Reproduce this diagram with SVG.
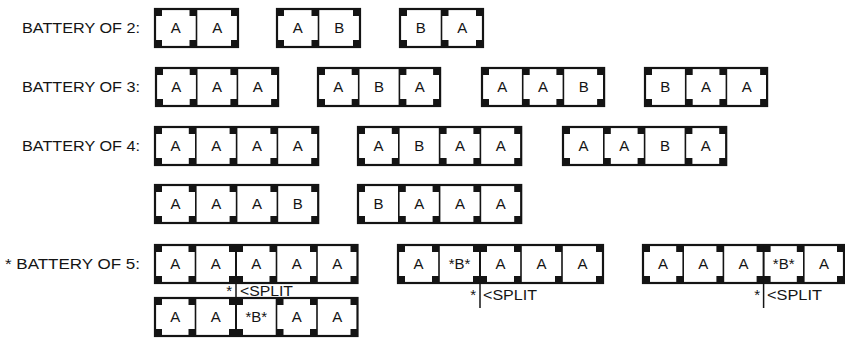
<svg xmlns="http://www.w3.org/2000/svg" width="845" height="341" viewBox="0 0 845 341">
<style>
.bg{fill:#fff}
.box{fill:#fff;stroke:#141414;stroke-width:2.2}
.sep{stroke:#141414;stroke-width:1.6}
.spl{stroke:#141414;stroke-width:2}
.sq{fill:#141414}
.lbl{font-family:"Liberation Sans",Arial,sans-serif;font-size:15px;fill:#141414}
.c{font-family:"Liberation Sans",Arial,sans-serif;font-size:15px;fill:#141414;text-anchor:middle}
.st{font-family:"Liberation Sans",Arial,sans-serif;font-size:15px;fill:#141414}
.cl{stroke:#141414;stroke-width:1.5}
</style>
<defs><rect id="s" class="sq" width="7" height="7"/></defs>
<rect class="bg" x="0" y="0" width="845" height="341"/>
<g id="labels">
<text class="lbl" x="22" y="33" textLength="118" lengthAdjust="spacingAndGlyphs">BATTERY OF 2:</text>
<text class="lbl" x="22" y="92" textLength="118" lengthAdjust="spacingAndGlyphs">BATTERY OF 3:</text>
<text class="lbl" x="22" y="151" textLength="118" lengthAdjust="spacingAndGlyphs">BATTERY OF 4:</text>
<text class="lbl" x="5" y="269" textLength="135" lengthAdjust="spacingAndGlyphs">* BATTERY OF 5:</text>
</g>
<!-- Row 1 -->
<g id="b2-aa">
<rect class="box" x="155" y="9" width="83" height="38"/>
<line class="sep" x1="196.5" y1="9" x2="196.5" y2="47"/>
<use href="#s" x="155" y="9"/><use href="#s" x="155" y="40"/>
<use href="#s" x="189.5" y="9"/><use href="#s" x="189.5" y="40"/>
<use href="#s" x="231" y="9"/><use href="#s" x="231" y="40"/>
<text class="c" x="175.75" y="33">A</text><text class="c" x="217.25" y="33">A</text>
</g>
<g id="b2-ab">
<rect class="box" x="277" y="9" width="83" height="38"/>
<line class="sep" x1="318.5" y1="9" x2="318.5" y2="47"/>
<use href="#s" x="277" y="9"/><use href="#s" x="277" y="40"/>
<use href="#s" x="311.5" y="9"/><use href="#s" x="311.5" y="40"/>
<use href="#s" x="353" y="9"/><use href="#s" x="353" y="40"/>
<text class="c" x="297.75" y="33">A</text><text class="c" x="339.25" y="33">B</text>
</g>
<g id="b2-ba">
<rect class="box" x="400" y="9" width="83" height="38"/>
<line class="sep" x1="441.5" y1="9" x2="441.5" y2="47"/>
<use href="#s" x="400" y="9"/><use href="#s" x="400" y="40"/>
<use href="#s" x="441.5" y="9"/><use href="#s" x="441.5" y="40"/>
<use href="#s" x="476" y="9"/><use href="#s" x="476" y="40"/>
<text class="c" x="420.75" y="33">B</text><text class="c" x="462.25" y="33">A</text>
</g>
<!-- Row 2 -->
<g id="b3-aaa">
<rect class="box" x="156" y="68" width="122.1" height="38"/>
<line class="sep" x1="196.7" y1="68" x2="196.7" y2="106"/><line class="sep" x1="237.4" y1="68" x2="237.4" y2="106"/>
<use href="#s" x="156" y="68"/><use href="#s" x="156" y="99"/>
<use href="#s" x="189.7" y="68"/><use href="#s" x="189.7" y="99"/>
<use href="#s" x="230.4" y="68"/><use href="#s" x="230.4" y="99"/>
<use href="#s" x="271.1" y="68"/><use href="#s" x="271.1" y="99"/>
<text class="c" x="176.35" y="92">A</text><text class="c" x="217.05" y="92">A</text><text class="c" x="257.75" y="92">A</text>
</g>
<g id="b3-aba">
<rect class="box" x="318" y="68" width="122.1" height="38"/>
<line class="sep" x1="358.7" y1="68" x2="358.7" y2="106"/><line class="sep" x1="399.4" y1="68" x2="399.4" y2="106"/>
<use href="#s" x="318" y="68"/><use href="#s" x="318" y="99"/>
<use href="#s" x="351.7" y="68"/><use href="#s" x="351.7" y="99"/>
<use href="#s" x="399.4" y="68"/><use href="#s" x="399.4" y="99"/>
<use href="#s" x="433.1" y="68"/><use href="#s" x="433.1" y="99"/>
<text class="c" x="338.35" y="92">A</text><text class="c" x="379.05" y="92">B</text><text class="c" x="419.75" y="92">A</text>
</g>
<g id="b3-aab">
<rect class="box" x="482" y="68" width="122.1" height="38"/>
<line class="sep" x1="522.7" y1="68" x2="522.7" y2="106"/><line class="sep" x1="563.4" y1="68" x2="563.4" y2="106"/>
<use href="#s" x="482" y="68"/><use href="#s" x="482" y="99"/>
<use href="#s" x="522.7" y="68"/><use href="#s" x="522.7" y="99"/>
<use href="#s" x="556.4" y="68"/><use href="#s" x="556.4" y="99"/>
<use href="#s" x="597.1" y="68"/><use href="#s" x="597.1" y="99"/>
<text class="c" x="502.35" y="92">A</text><text class="c" x="543.05" y="92">A</text><text class="c" x="583.75" y="92">B</text>
</g>
<g id="b3-baa">
<rect class="box" x="645" y="68" width="122.1" height="38"/>
<line class="sep" x1="685.7" y1="68" x2="685.7" y2="106"/><line class="sep" x1="726.4" y1="68" x2="726.4" y2="106"/>
<use href="#s" x="645" y="68"/><use href="#s" x="645" y="99"/>
<use href="#s" x="685.7" y="68"/><use href="#s" x="685.7" y="99"/>
<use href="#s" x="719.4" y="68"/><use href="#s" x="719.4" y="99"/>
<use href="#s" x="760.1" y="68"/><use href="#s" x="760.1" y="99"/>
<text class="c" x="665.35" y="92">B</text><text class="c" x="706.05" y="92">A</text><text class="c" x="746.75" y="92">A</text>
</g>
<!-- Row 3 -->
<g id="b4-aaaa">
<rect class="box" x="155" y="127" width="163.2" height="38"/>
<line class="sep" x1="195.8" y1="127" x2="195.8" y2="165"/><line class="sep" x1="236.6" y1="127" x2="236.6" y2="165"/><line class="sep" x1="277.4" y1="127" x2="277.4" y2="165"/>
<use href="#s" x="155" y="127"/><use href="#s" x="155" y="158"/>
<use href="#s" x="188.8" y="127"/><use href="#s" x="188.8" y="158"/>
<use href="#s" x="229.6" y="127"/><use href="#s" x="229.6" y="158"/>
<use href="#s" x="270.4" y="127"/><use href="#s" x="270.4" y="158"/>
<use href="#s" x="311.2" y="127"/><use href="#s" x="311.2" y="158"/>
<text class="c" x="175.4" y="151">A</text><text class="c" x="216.2" y="151">A</text><text class="c" x="257" y="151">A</text><text class="c" x="297.8" y="151">A</text>
</g>
<g id="b4-abaa">
<rect class="box" x="358" y="127" width="163.2" height="38"/>
<line class="sep" x1="398.8" y1="127" x2="398.8" y2="165"/><line class="sep" x1="439.6" y1="127" x2="439.6" y2="165"/><line class="sep" x1="480.4" y1="127" x2="480.4" y2="165"/>
<use href="#s" x="358" y="127"/><use href="#s" x="358" y="158"/>
<use href="#s" x="391.8" y="127"/><use href="#s" x="391.8" y="158"/>
<use href="#s" x="439.6" y="127"/><use href="#s" x="439.6" y="158"/>
<use href="#s" x="473.4" y="127"/><use href="#s" x="473.4" y="158"/>
<use href="#s" x="514.2" y="127"/><use href="#s" x="514.2" y="158"/>
<text class="c" x="378.4" y="151">A</text><text class="c" x="419.2" y="151">B</text><text class="c" x="460" y="151">A</text><text class="c" x="500.8" y="151">A</text>
</g>
<g id="b4-aaba">
<rect class="box" x="563" y="127" width="163.2" height="38"/>
<line class="sep" x1="603.8" y1="127" x2="603.8" y2="165"/><line class="sep" x1="644.6" y1="127" x2="644.6" y2="165"/><line class="sep" x1="685.4" y1="127" x2="685.4" y2="165"/>
<use href="#s" x="563" y="127"/><use href="#s" x="563" y="158"/>
<use href="#s" x="603.8" y="127"/><use href="#s" x="603.8" y="158"/>
<use href="#s" x="637.6" y="127"/><use href="#s" x="637.6" y="158"/>
<use href="#s" x="685.4" y="127"/><use href="#s" x="685.4" y="158"/>
<use href="#s" x="719.2" y="127"/><use href="#s" x="719.2" y="158"/>
<text class="c" x="583.4" y="151">A</text><text class="c" x="624.2" y="151">A</text><text class="c" x="665" y="151">B</text><text class="c" x="705.8" y="151">A</text>
</g>
<!-- Row 4 -->
<g id="b4-aaab">
<rect class="box" x="155" y="185" width="163.2" height="38"/>
<line class="sep" x1="195.8" y1="185" x2="195.8" y2="223"/><line class="sep" x1="236.6" y1="185" x2="236.6" y2="223"/><line class="sep" x1="277.4" y1="185" x2="277.4" y2="223"/>
<use href="#s" x="155" y="185"/><use href="#s" x="155" y="216"/>
<use href="#s" x="188.8" y="185"/><use href="#s" x="188.8" y="216"/>
<use href="#s" x="229.6" y="185"/><use href="#s" x="229.6" y="216"/>
<use href="#s" x="270.4" y="185"/><use href="#s" x="270.4" y="216"/>
<use href="#s" x="311.2" y="185"/><use href="#s" x="311.2" y="216"/>
<text class="c" x="175.4" y="209">A</text><text class="c" x="216.2" y="209">A</text><text class="c" x="257" y="209">A</text><text class="c" x="297.8" y="209">B</text>
</g>
<g id="b4-baaa">
<rect class="box" x="358" y="185" width="163.2" height="38"/>
<line class="sep" x1="398.8" y1="185" x2="398.8" y2="223"/><line class="sep" x1="439.6" y1="185" x2="439.6" y2="223"/><line class="sep" x1="480.4" y1="185" x2="480.4" y2="223"/>
<use href="#s" x="358" y="185"/><use href="#s" x="358" y="216"/>
<use href="#s" x="398.8" y="185"/><use href="#s" x="398.8" y="216"/>
<use href="#s" x="432.6" y="185"/><use href="#s" x="432.6" y="216"/>
<use href="#s" x="473.4" y="185"/><use href="#s" x="473.4" y="216"/>
<use href="#s" x="514.2" y="185"/><use href="#s" x="514.2" y="216"/>
<text class="c" x="378.4" y="209">B</text><text class="c" x="419.2" y="209">A</text><text class="c" x="460" y="209">A</text><text class="c" x="500.8" y="209">A</text>
</g>
<!-- Row 5 -->
<g id="b5-aaaaa">
<rect class="box" x="155" y="245" width="202.5" height="38"/>
<line class="sep" x1="195.5" y1="245" x2="195.5" y2="283"/><line class="spl" x1="236" y1="245" x2="236" y2="283"/><line class="sep" x1="276.5" y1="245" x2="276.5" y2="283"/><line class="sep" x1="317" y1="245" x2="317" y2="283"/>
<use href="#s" x="155" y="245"/><use href="#s" x="155" y="276"/>
<use href="#s" x="188.5" y="245"/><use href="#s" x="188.5" y="276"/>
<use href="#s" x="229" y="245"/><use href="#s" x="229" y="276"/>
<use href="#s" x="236" y="245"/><use href="#s" x="236" y="276"/>
<use href="#s" x="269.5" y="245"/><use href="#s" x="269.5" y="276"/>
<use href="#s" x="310" y="245"/><use href="#s" x="310" y="276"/>
<use href="#s" x="350.5" y="245"/><use href="#s" x="350.5" y="276"/>
<text class="c" x="175.25" y="269">A</text><text class="c" x="215.75" y="269">A</text><text class="c" x="256.25" y="269">A</text><text class="c" x="296.75" y="269">A</text><text class="c" x="337.25" y="269">A</text>
</g>
<g id="b5-abaaa">
<rect class="box" x="398" y="245" width="205" height="38"/>
<line class="sep" x1="439" y1="245" x2="439" y2="283"/><line class="spl" x1="480" y1="245" x2="480" y2="283"/><line class="sep" x1="521" y1="245" x2="521" y2="283"/><line class="sep" x1="562" y1="245" x2="562" y2="283"/>
<use href="#s" x="398" y="245"/><use href="#s" x="398" y="276"/>
<use href="#s" x="432" y="245"/><use href="#s" x="432" y="276"/>
<use href="#s" x="473" y="245"/><use href="#s" x="473" y="276"/>
<use href="#s" x="480" y="245"/><use href="#s" x="480" y="276"/>
<use href="#s" x="514" y="245"/><use href="#s" x="514" y="276"/>
<use href="#s" x="555" y="245"/><use href="#s" x="555" y="276"/>
<use href="#s" x="596" y="245"/><use href="#s" x="596" y="276"/>
<text class="c" x="418.5" y="269">A</text><text class="c" x="459.5" y="269">*B*</text><text class="c" x="500.5" y="269">A</text><text class="c" x="541.5" y="269">A</text><text class="c" x="582.5" y="269">A</text>
</g>
<g id="b5-aaaba">
<rect class="box" x="643" y="245" width="201" height="38"/>
<line class="sep" x1="683.2" y1="245" x2="683.2" y2="283"/><line class="sep" x1="723.4" y1="245" x2="723.4" y2="283"/><line class="spl" x1="763.6" y1="245" x2="763.6" y2="283"/><line class="sep" x1="803.8" y1="245" x2="803.8" y2="283"/>
<use href="#s" x="643" y="245"/><use href="#s" x="643" y="276"/>
<use href="#s" x="676.2" y="245"/><use href="#s" x="676.2" y="276"/>
<use href="#s" x="716.4" y="245"/><use href="#s" x="716.4" y="276"/>
<use href="#s" x="756.6" y="245"/><use href="#s" x="756.6" y="276"/>
<use href="#s" x="763.6" y="245"/><use href="#s" x="763.6" y="276"/>
<use href="#s" x="796.8" y="245"/><use href="#s" x="796.8" y="276"/>
<use href="#s" x="837" y="245"/><use href="#s" x="837" y="276"/>
<text class="c" x="663.1" y="269">A</text><text class="c" x="703.3" y="269">A</text><text class="c" x="743.5" y="269">A</text><text class="c" x="783.7" y="269">*B*</text><text class="c" x="823.9" y="269">A</text>
</g>
<!-- Row 6 -->
<g id="b5-aabaa">
<rect class="box" x="155" y="298" width="202.5" height="38"/>
<line class="sep" x1="195.5" y1="298" x2="195.5" y2="336"/><line class="spl" x1="236" y1="298" x2="236" y2="336"/><line class="sep" x1="276.5" y1="298" x2="276.5" y2="336"/><line class="sep" x1="317" y1="298" x2="317" y2="336"/>
<use href="#s" x="155" y="298"/><use href="#s" x="155" y="329"/>
<use href="#s" x="188.5" y="298"/><use href="#s" x="188.5" y="329"/>
<use href="#s" x="229" y="298"/><use href="#s" x="229" y="329"/>
<use href="#s" x="236" y="298"/><use href="#s" x="236" y="329"/>
<use href="#s" x="276.5" y="298"/><use href="#s" x="276.5" y="329"/>
<use href="#s" x="310" y="298"/><use href="#s" x="310" y="329"/>
<use href="#s" x="350.5" y="298"/><use href="#s" x="350.5" y="329"/>
<text class="c" x="175.25" y="322">A</text><text class="c" x="215.75" y="322">A</text><text class="c" x="256.25" y="322">*B*</text><text class="c" x="296.75" y="322">A</text><text class="c" x="337.25" y="322">A</text>
</g>
<g id="connectors">
<line class="cl" x1="236" y1="283" x2="236" y2="298"/>
<text class="st" x="232" y="296" text-anchor="end">*</text>
<text class="st" x="240" y="296" textLength="53" lengthAdjust="spacingAndGlyphs">&lt;SPLIT</text>
<line class="cl" x1="480" y1="283" x2="480" y2="308"/>
<text class="st" x="476" y="300" text-anchor="end">*</text>
<text class="st" x="483" y="300" textLength="54" lengthAdjust="spacingAndGlyphs">&lt;SPLIT</text>
<line class="cl" x1="763.6" y1="283" x2="763.6" y2="308"/>
<text class="st" x="760" y="300" text-anchor="end">*</text>
<text class="st" x="767" y="300" textLength="55" lengthAdjust="spacingAndGlyphs">&lt;SPLIT</text>
</g>
</svg>
